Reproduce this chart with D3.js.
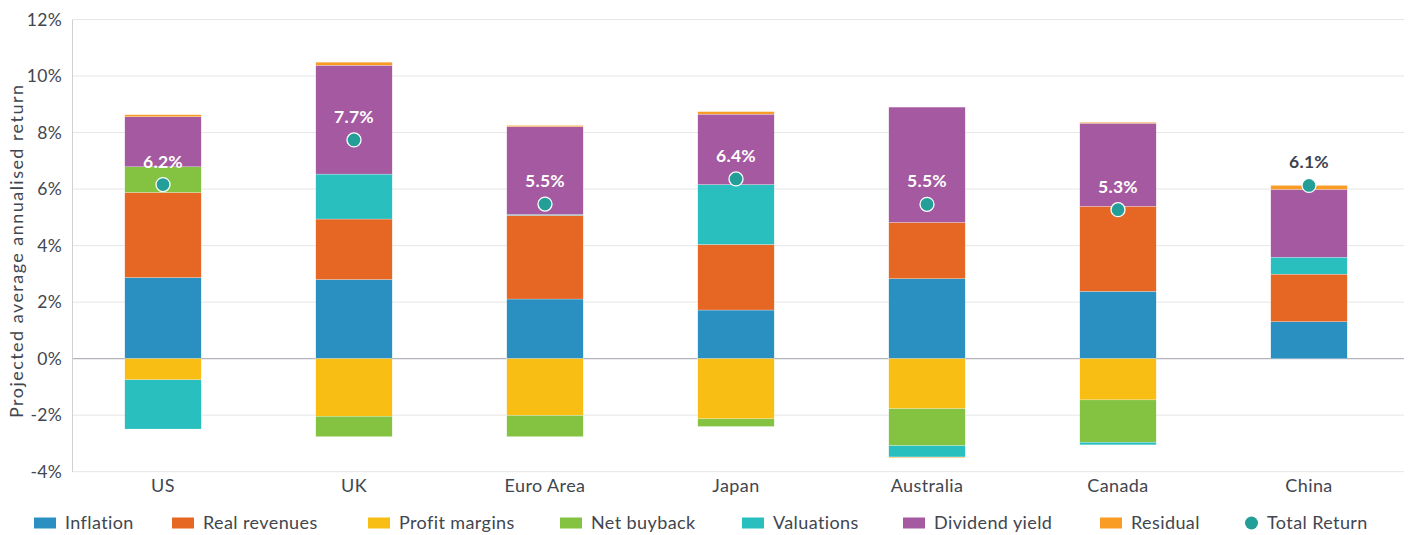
<!DOCTYPE html>
<html>
<head>
<meta charset="utf-8">
<script src="https://cdn.jsdelivr.net/npm/d3@7"></script>
<style>
  html, body { margin: 0; padding: 0; background: #fff; }
  svg { display: block; font-family: Lato, "Open Sans", sans-serif; }
</style>
</head>
<body>
<svg id="chart" width="1409" height="535"></svg>
<script>
// ---- Data ----
const categories = ["US", "UK", "Euro Area", "Japan", "Australia", "Canada", "China"];
const inflation     = [2.87, 2.80, 2.11, 1.72, 2.83, 2.38, 1.31];
const realRevenues  = [3.01, 2.14, 2.96, 2.32, 1.99, 3.01, 1.68];
const profitMargins = [-0.75, -2.04, -2.01, -2.13, -1.77, -1.46, 0];
const netBuyback    = [0.91, -0.72, -0.75, -0.27, -1.31, -1.50, 0];
const valuations    = [-1.74, 1.59, 0.03, 2.12, -0.40, -0.09, 0.60];
const dividendYield = [1.77, 3.85, 3.11, 2.49, 4.08, 2.94, 2.40];
const residual      = [0.07, 0.11, 0.04, 0.09, -0.02, 0.03, 0.14];
const totalReturn   = [6.16, 7.74, 5.47, 6.36, 5.46, 5.27, 6.13];
const yTicks = [-4, -2, 0, 2, 4, 6, 8, 10, 12];
const seriesNames = ["Inflation", "Real revenues", "Profit margins", "Net buyback", "Valuations", "Dividend yield", "Residual"];
const seriesValues = [inflation, realRevenues, profitMargins, netBuyback, valuations, dividendYield, residual];
const seriesColors = ["#2a8fc1", "#e66624", "#f9be14", "#84c341", "#29bfbe", "#a459a1", "#f89c26"];
const totalName = "Total Return";
const totalColor = "#239e98";
const yTitle = "Projected average annualised return";

// ---- Layout ----
const svg = d3.select("#chart");
const plotLeft = 72, plotRight = 1404, plotTop = 19.5, plotBottom = 471.7;
const textColor = "#41464f";

const x = d3.scaleBand().domain(categories).range([67.5, 1404.5]).padding(0);
const y = d3.scaleLinear().domain([-4, 12]).range([plotBottom, plotTop]);
const barW = x.bandwidth() * 0.4;

// table for stacking
const table = categories.map((c, i) => {
  const row = { cat: c };
  seriesNames.forEach((s, j) => row[s] = seriesValues[j][i]);
  return row;
});
const stacked = d3.stack().keys(seriesNames).offset(d3.stackOffsetDiverging)(table);

// gridlines
svg.append("g").selectAll("line").data(yTicks).join("line")
  .attr("x1", plotLeft).attr("x2", plotRight)
  .attr("y1", d => y(d)).attr("y2", d => y(d))
  .attr("stroke", d => d === 0 ? "#b4b4bc" : "#e6e6e6")
  .attr("stroke-width", d => d === 0 ? 1.2 : 1);

// y axis
const yAxis = d3.axisLeft(y).tickValues(yTicks).tickFormat(d => d + "%").tickSize(0).tickPadding(10);
const yg = svg.append("g").attr("transform", `translate(${plotLeft},0)`).call(yAxis);
yg.select(".domain").attr("stroke", "#cfd0d4");
yg.selectAll("text").attr("font-size", 17.5).attr("fill", textColor)
  .attr("font-family", "Lato, sans-serif").attr("letter-spacing", 0.3);

// y title
svg.append("text")
  .attr("transform", `translate(23,251.5) rotate(-90)`)
  .attr("text-anchor", "middle").attr("font-size", 18).attr("fill", textColor)
  .attr("textLength", 333).attr("lengthAdjust", "spacing")
  .text(yTitle);

// bars
svg.append("g").selectAll("g").data(stacked).join("g")
  .attr("fill", (d, i) => seriesColors[i])
  .selectAll("rect").data(d => d).join("rect")
  .attr("x", d => x(d.data.cat) + (x.bandwidth() - barW) / 2)
  .attr("width", barW)
  .attr("y", d => y(Math.max(d[0], d[1])))
  .attr("height", d => Math.abs(y(d[0]) - y(d[1])))
  .attr("stroke", "#ffffff").attr("stroke-width", 0.4).attr("stroke-opacity", 0.6);

// x axis labels
const xAxis = d3.axisBottom(x).tickSize(0).tickPadding(8);
const xg = svg.append("g").attr("transform", `translate(0,${plotBottom})`).call(xAxis);
xg.select(".domain").remove();
xg.selectAll("text").attr("font-size", 18).attr("fill", textColor)
  .attr("font-family", "Lato, sans-serif").attr("letter-spacing", 0.4);

// total return dots + labels
const cx = c => x(c) + x.bandwidth() / 2;
svg.append("g").selectAll("circle").data(categories).join("circle")
  .attr("cx", d => cx(d)).attr("cy", (d, i) => y(totalReturn[i]))
  .attr("r", 7).attr("fill", totalColor).attr("stroke", "#fff").attr("stroke-width", 1.3);

const topOf = i => {
  let s = 0; seriesValues.forEach(v => { if (v[i] > 0) s += v[i]; }); return s;
};
svg.append("g").selectAll("text").data(categories).join("text")
  .attr("x", d => cx(d)).attr("y", (d, i) => y(totalReturn[i]) - 17)
  .attr("text-anchor", "middle").attr("font-size", 17.5).attr("font-weight", 700)
  .attr("letter-spacing", 0.3)
  .attr("fill", (d, i) => (y(totalReturn[i]) - 23 < y(topOf(i)) ? "#3d4350" : "#ffffff"))
  .text((d, i) => totalReturn[i].toFixed(1) + "%");

// legend
const legendX = [34, 172, 368, 560, 742, 903, 1100, 1245];
const legendY = 523;
const items = seriesNames.map((n, i) => ({ name: n, color: seriesColors[i], type: "rect" }))
  .concat([{ name: totalName, color: totalColor, type: "circle" }]);
const lg = svg.append("g").selectAll("g").data(items).join("g")
  .attr("transform", (d, i) => `translate(${legendX[i]},${legendY})`);
lg.filter(d => d.type === "rect").append("rect")
  .attr("x", 0).attr("y", -5.5).attr("width", 22).attr("height", 11).attr("fill", d => d.color);
lg.filter(d => d.type === "circle").append("circle")
  .attr("cx", 6.5).attr("cy", 0).attr("r", 6.5).attr("fill", d => d.color);
lg.append("text")
  .attr("x", d => d.type === "rect" ? 31 : 22).attr("y", 0).attr("dy", "0.35em")
  .attr("font-size", 18).attr("letter-spacing", 0.4).attr("fill", textColor).text(d => d.name);
</script>
</body>
</html>
